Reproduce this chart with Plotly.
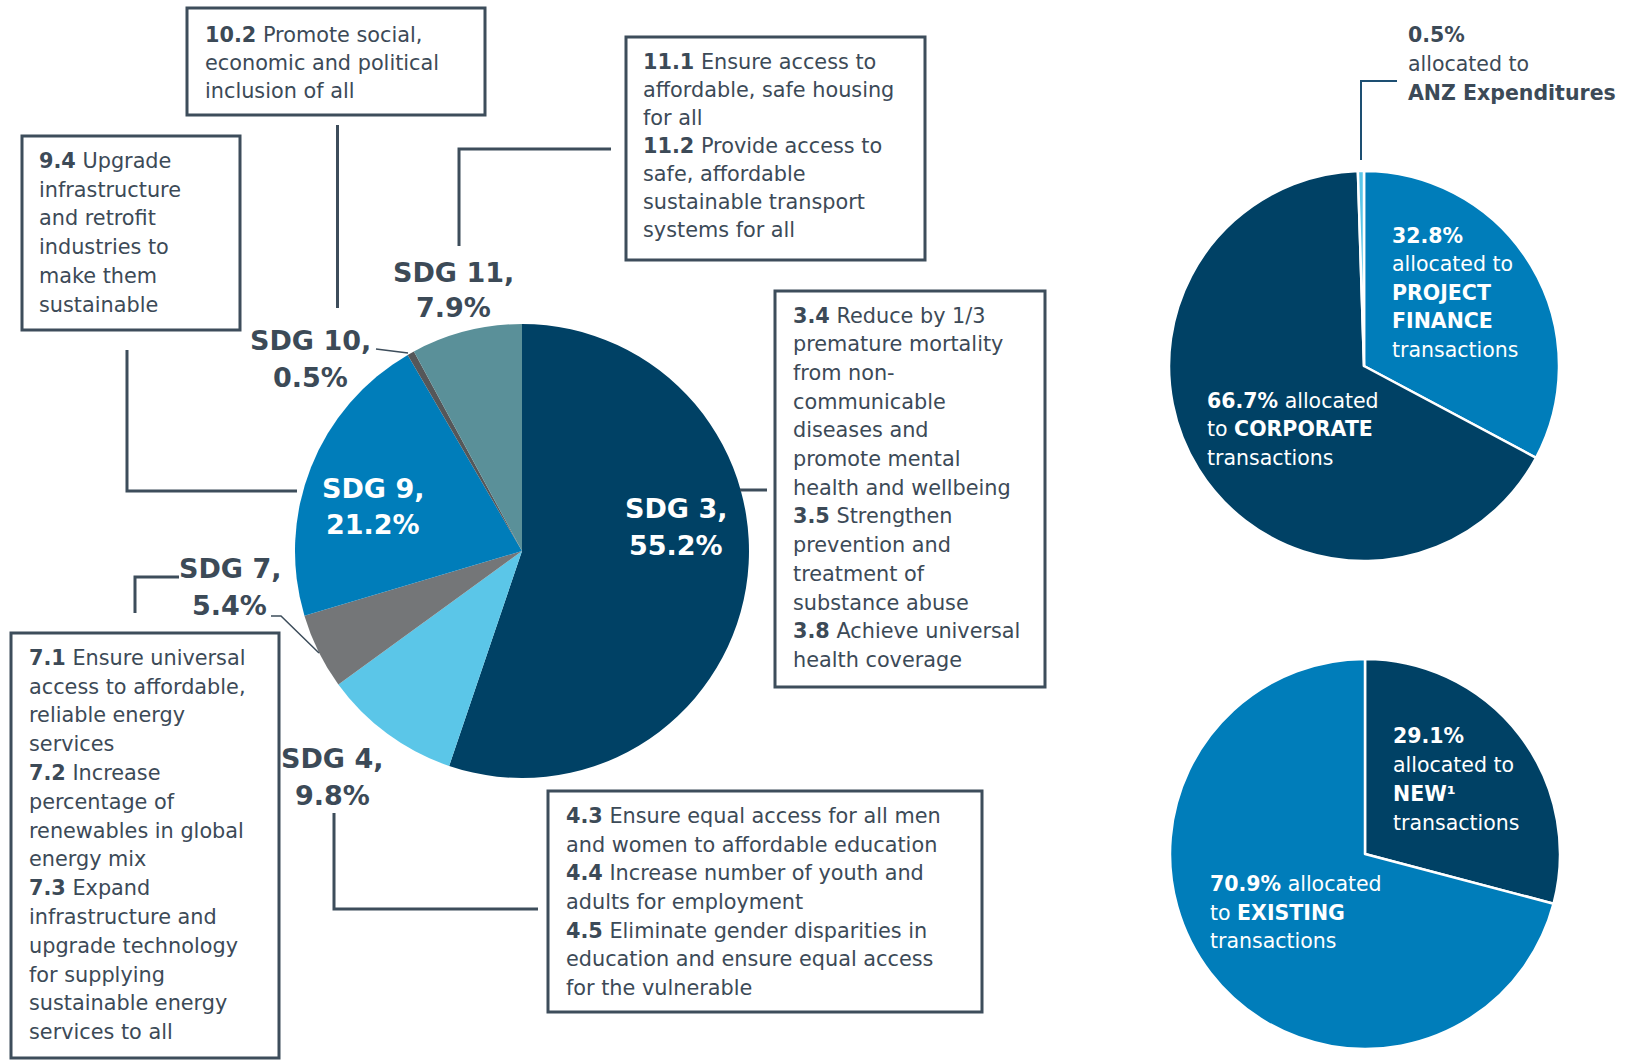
import plotly.graph_objects as go

# ---------------- data ----------------
sdg_names = ["SDG 3", "SDG 4", "SDG 7", "SDG 9", "SDG 10", "SDG 11"]
sdg_values = [55.2, 9.8, 5.4, 21.2, 0.5, 7.9]
sdg_colors = ["#004165", "#5bc6e8", "#747678", "#007dba", "#555759", "#5a9099"]

type_names = ["PROJECT FINANCE", "CORPORATE", "ANZ Expenditures"]
type_values = [32.8, 66.7, 0.5]
type_colors = ["#007dba", "#004165", "#5bc6e8"]

vintage_names = ["NEW", "EXISTING"]
vintage_values = [29.1, 70.9]
vintage_colors = ["#004165", "#007dba"]

box_10 = ["<b>10.2</b> Promote social,", "economic and political", "inclusion of all"]
box_9 = ["<b>9.4</b> Upgrade", "infrastructure", "and retrofit", "industries to",
         "make them", "sustainable"]
box_11 = ["<b>11.1</b> Ensure access to", "affordable, safe housing", "for all",
          "<b>11.2</b> Provide access to", "safe, affordable",
          "sustainable transport", "systems for all"]
box_3 = ["<b>3.4</b> Reduce by 1/3", "premature mortality", "from non-", "communicable",
         "diseases and", "promote mental", "health and wellbeing",
         "<b>3.5</b> Strengthen", "prevention and", "treatment of", "substance abuse",
         "<b>3.8</b> Achieve universal", "health coverage"]
box_7 = ["<b>7.1</b> Ensure universal", "access to affordable,", "reliable energy",
         "services", "<b>7.2</b> Increase", "percentage of", "renewables in global",
         "energy mix", "<b>7.3</b> Expand", "infrastructure and", "upgrade technology",
         "for supplying", "sustainable energy", "services to all"]
box_4 = ["<b>4.3</b> Ensure equal access for all men", "and women to affordable education",
         "<b>4.4</b> Increase number of youth and", "adults for employment",
         "<b>4.5</b> Eliminate gender disparities in", "education and ensure equal access",
         "for the vulnerable"]

# ---------------- helpers ----------------
W, H = 1630, 1060
FONT = "DejaVu Sans"
TXT = "#3c4a57"
LINE = "#3d4d5b"


def px(x):
    return x / W


def py(y):
    return 1 - y / H


def dom(cx, cy, r):
    return dict(x=[px(cx - r), px(cx + r)], y=[py(cy + r), py(cy - r)])


annotations = []
shapes = []


def text_lines(lines, x, baseline0, spacing, size, color=TXT, anchor="left"):
    for i, t in enumerate(lines):
        b = baseline0 + i * spacing
        annotations.append(dict(
            x=px(x), y=py(b - 0.346 * size), xref="paper", yref="paper",
            xanchor=anchor, yanchor="middle", showarrow=False, text=t,
            align=anchor if anchor != "center" else "center",
            font=dict(family=FONT, size=size, color=color),
            borderpad=0, borderwidth=0))


def rect(x0, y0, x1, y1):
    shapes.append(dict(type="rect", xref="paper", yref="paper",
                       x0=px(x0), x1=px(x1), y0=py(y1), y1=py(y0),
                       line=dict(color=LINE, width=3), fillcolor="rgba(0,0,0,0)"))


def path(points, width=3, color=LINE):
    d = "M " + " L ".join(f"{px(a):.5f},{py(b):.5f}" for a, b in points)
    shapes.append(dict(type="path", xref="paper", yref="paper", path=d,
                       line=dict(color=color, width=width)))


fig = go.Figure()

# ---------------- pies ----------------
fig.add_trace(go.Pie(
    labels=sdg_names, values=sdg_values, sort=False, direction="clockwise",
    rotation=0, marker=dict(colors=sdg_colors, line=dict(width=0)),
    textinfo="none", hoverinfo="label+percent", showlegend=False,
    domain=dom(522, 551, 227)))

fig.add_trace(go.Pie(
    labels=type_names, values=type_values, sort=False, direction="clockwise",
    rotation=0, marker=dict(colors=type_colors, line=dict(color="white", width=2.5)),
    textinfo="none", hoverinfo="label+percent", showlegend=False,
    domain=dom(1364, 366, 195)))

fig.add_trace(go.Pie(
    labels=vintage_names, values=vintage_values, sort=False, direction="clockwise",
    rotation=0, marker=dict(colors=vintage_colors, line=dict(color="white", width=2.5)),
    textinfo="none", hoverinfo="label+percent", showlegend=False,
    domain=dom(1365, 854, 195)))

# ---------------- boxes ----------------
BS = 20.8
rect(187, 8, 485, 115)
text_lines(box_10, 205, 42, 28, BS)
rect(22, 136, 240, 330)
text_lines(box_9, 39, 168, 28.8, BS)
rect(626, 37, 925, 260)
text_lines(box_11, 643, 69, 28, BS)
rect(775, 291, 1045, 687)
text_lines(box_3, 793, 323, 28.67, BS)
rect(11, 633, 279, 1058)
text_lines(box_7, 29, 665, 28.8, BS)
rect(548, 791, 982, 1012)
text_lines(box_4, 566, 823, 28.7, BS)

# ---------------- connectors ----------------
path([(337.5, 125), (337.5, 308)])
path([(127, 350), (127, 491), (297, 491)])
path([(611, 149), (459, 149), (459, 246)])
path([(740, 490), (767, 490)])
path([(135, 613), (135, 577), (179, 577)])
path([(334, 813), (334, 909), (538, 909)])
path([(376, 349), (408, 353)], width=1.5)
path([(271, 616), (281, 616), (319, 653)], width=1.5)
path([(1397, 81), (1361, 81), (1361, 160)], width=2, color="#1d4f72")

# ---------------- SDG labels ----------------
LS = 27


def sdg(i):
    return [f"<b>{sdg_names[i]},</b>", f"<b>{sdg_values[i]}%</b>"]


text_lines(sdg(0), 676, 518, 37, LS, color="white", anchor="center")
text_lines(sdg(1), 332, 768, 37, LS, anchor="center")
text_lines(sdg(2), 230, 578, 37, LS, anchor="center")
text_lines(sdg(3), 373, 498, 36, LS, color="white", anchor="center")
text_lines(sdg(4), 310, 350, 37, LS, anchor="center")
text_lines(sdg(5), 453, 282, 35, LS, anchor="center")

# ---------------- right-hand pie labels ----------------
RS = 20.5
text_lines([f"<b>{type_values[2]}%</b>", "allocated to", f"<b>{type_names[2]}</b>"],
           1408, 42, 29, RS)
text_lines([f"<b>{type_values[0]}%</b>", "allocated to", "<b>PROJECT</b>", "<b>FINANCE</b>",
            "transactions"], 1392, 243, 28.5, RS, color="white")
text_lines([f"<b>{type_values[1]}%</b> allocated", f"to <b>{type_names[1]}</b>",
            "transactions"], 1207, 408, 28.5, RS, color="white")
text_lines([f"<b>{vintage_values[0]}%</b>", "allocated to", f"<b>{vintage_names[0]}¹</b>",
            "transactions"], 1393, 743, 29, RS, color="white")
text_lines([f"<b>{vintage_values[1]}%</b> allocated", f"to <b>{vintage_names[1]}</b>",
            "transactions"], 1210, 891, 28.7, RS, color="white")

fig.update_layout(
    width=W, height=H, margin=dict(l=0, r=0, t=0, b=0),
    paper_bgcolor="white", plot_bgcolor="white",
    showlegend=False, annotations=annotations, shapes=shapes,
    font=dict(family=FONT, color=TXT))

fig.write_html("out.html", config={"displayModeBar": False})
